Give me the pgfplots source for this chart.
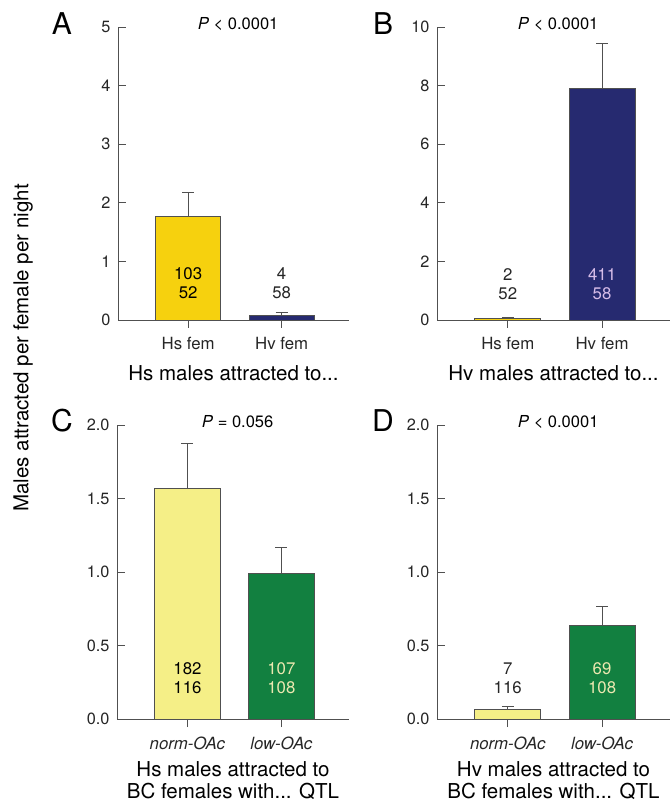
\documentclass[border=0pt]{standalone}
\usepackage{pgfplots}
\pgfplotsset{compat=1.18}
\usepackage{fontspec}
\setmainfont{TeX Gyre Heros}
\definecolor{hsyel}{RGB}{246,209,14}
\definecolor{hvnavy}{RGB}{38,42,112}
\definecolor{lyel}{RGB}{245,239,135}
\definecolor{bcgreen}{RGB}{18,128,64}
\definecolor{lav}{RGB}{214,188,232}
\definecolor{lgrn}{RGB}{236,232,176}
\definecolor{axgray}{RGB}{80,80,80}

\pgfplotstableread{
x y e
1 1.775 0.405
}\Aone
\pgfplotstableread{
x y e
2 0.08 0.045
}\Atwo
\pgfplotstableread{
x y e
1 0.04 0.03
}\Bone
\pgfplotstableread{
x y e
2 7.90 1.53
}\Btwo
\pgfplotstableread{
x y e
1 1.567 0.308
}\Cone
\pgfplotstableread{
x y e
2 0.993 0.177
}\Ctwo
\pgfplotstableread{
x y e
1 0.066 0.022
}\Done
\pgfplotstableread{
x y e
2 0.640 0.127
}\Dtwo

\pgfplotsset{
  panel/.style={
    scale only axis, width=231pt, height=293pt,
    xmin=0.25, xmax=2.72, ymin=0,
    axis x line*=bottom, axis y line*=left,
    axis line style={-, draw=axgray, line width=0.9pt},
    major tick style={draw=axgray, line width=0.9pt},
    xtick={1,2}, major tick length=8pt,
    x tick style={/pgfplots/tick align=outside},
    y tick style={/pgfplots/tick align=inside},
    tick align=inside,
    ticklabel style={font=\fontsize{16.3}{19}\selectfont, text=black!85},
    xticklabel style={font=\fontsize{16.8}{19}\selectfont, yshift=-14pt},
    yticklabel style={xshift=-4pt},
    /pgf/number format/assume math mode=true,
    clip=false,
  },
  barp/.style={ybar, bar width=0.7, bar shift=0pt, draw=axgray, line width=0.8pt,
    error bars/y dir=plus, error bars/y explicit,
    error bars/error bar style={draw=axgray, line width=0.9pt},
    error bars/error mark options={rotate=90, draw=axgray, line width=0.9pt, mark size=6pt}},
}
\newcommand{\pval}[1]{\node[font=\fontsize{16.5}{19}\selectfont, anchor=center] at (axis description cs:0.52,1.01) {#1};}
\newcommand{\xlab}[2]{\node[font=\fontsize{20.5}{22}\selectfont, align=center, anchor=north, inner sep=0pt] at (axis description cs:0.5,0) [yshift=#2] {#1};}
\newcommand{\nums}[4]{\node[font=\fontsize{16.8}{19}\selectfont, align=center, text=#4, anchor=center] at (axis cs:#1,#2) {#3};}

\begin{document}
\begin{tikzpicture}
\path[use as bounding box] (0pt,0pt) rectangle (671pt,802pt);

% Panel A
\begin{axis}[panel, at={(118pt,482pt)}, anchor=south west, ymax=5, ytick={0,1,...,5},
  xticklabels={Hs fem, Hv fem}]
\addplot[barp, fill=hsyel] table[x=x, y=y, y error=e] {\Aone};
\addplot[barp, fill=hvnavy] table[x=x, y=y, y error=e] {\Atwo};
\nums{1}{0.62}{103\\52}{black}
\nums{2}{0.62}{4\\58}{black!85}
\pval{\textit{P} < 0.0001}
\xlab{Hs males attracted to...}{-45pt}
\end{axis}

% Panel B
\begin{axis}[panel, at={(437pt,482pt)}, anchor=south west, width=233pt, ymax=10, ytick={0,2,...,10},
  xticklabels={Hs fem, Hv fem}]
\addplot[barp, fill=hsyel] table[x=x, y=y, y error=e] {\Bone};
\addplot[barp, fill=hvnavy] table[x=x, y=y, y error=e] {\Btwo};
\nums{1}{1.227}{2\\52}{black!85}
\nums{2}{1.227}{411\\58}{lav}
\pval{\textit{P} < 0.0001}
\xlab{Hv males attracted to...}{-45pt}
\end{axis}

% Panel C
\begin{axis}[panel, at={(117pt,83pt)}, anchor=south west, width=232pt, height=294pt, ymax=2, ytick={0,0.5,...,2},
  yticklabel style={/pgf/number format/.cd, fixed, fixed zerofill, precision=1},
  xticklabels={\textit{norm-OAc}, \textit{low-OAc}}]
\addplot[barp, fill=lyel] table[x=x, y=y, y error=e] {\Cone};
\addplot[barp, fill=bcgreen] table[x=x, y=y, y error=e] {\Ctwo};
\nums{1}{0.279}{182\\116}{black}
\nums{2}{0.279}{107\\108}{lgrn}
\pval{\textit{P} = 0.056}
\xlab{Hs males attracted to\\BC females with... QTL}{-42pt}
\end{axis}

% Panel D
\begin{axis}[panel, at={(437pt,83pt)}, anchor=south west, width=233pt, height=294pt, ymax=2, ytick={0,0.5,...,2},
  yticklabel style={/pgf/number format/.cd, fixed, fixed zerofill, precision=1},
  xticklabels={\textit{norm-OAc}, \textit{low-OAc}}]
\addplot[barp, fill=lyel] table[x=x, y=y, y error=e] {\Done};
\addplot[barp, fill=bcgreen] table[x=x, y=y, y error=e] {\Dtwo};
\nums{1}{0.279}{7\\116}{black!85}
\nums{2}{0.279}{69\\108}{lgrn}
\pval{\textit{P} < 0.0001}
\xlab{Hv males attracted to\\BC females with... QTL}{-42pt}
\end{axis}

% Panel letters
\node[font=\fontsize{30}{34}\selectfont] at (62pt,778pt) {A};
\node[font=\fontsize{30}{34}\selectfont] at (383pt,778pt) {B};
\node[font=\fontsize{30}{34}\selectfont] at (62pt,381pt) {C};
\node[font=\fontsize{30}{34}\selectfont] at (383pt,381pt) {D};

% y label
\node[font=\fontsize{20.5}{23}\selectfont, rotate=90] at (23pt,454pt) {Males attracted per female per night};
\end{tikzpicture}
\end{document}
